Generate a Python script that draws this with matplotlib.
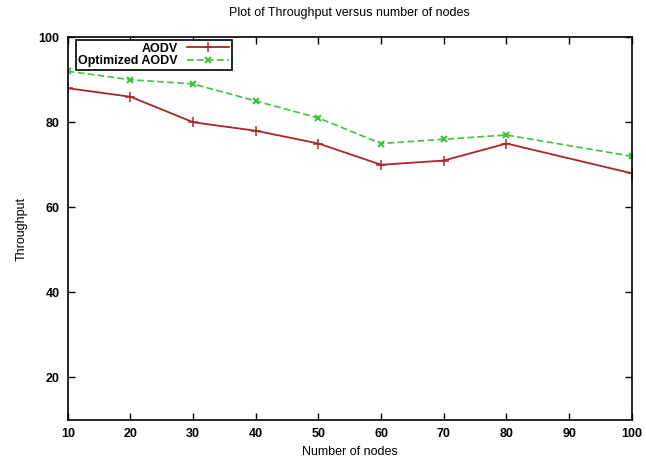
import matplotlib
matplotlib.use("Agg")
import matplotlib.pyplot as plt

# Données
nodes = [10, 20, 30, 40, 50, 60, 70, 80, 100]
aodv = [88, 86, 80, 78, 75, 70, 71, 75, 68]
optimized_aodv = [92, 90, 89, 85, 81, 75, 76, 77, 72]
xticks = [10, 20, 30, 40, 50, 60, 70, 80, 90, 100]
yticks = [20, 40, 60, 80, 100]

plt.rcParams['font.family'] = ['Liberation Sans', 'DejaVu Sans']
plt.rcParams['font.size'] = 9

fig = plt.figure(figsize=(6.46, 4.59), dpi=100)
ax = fig.add_axes([0.105, 0.085, 0.873, 0.834])

ax.plot(nodes, aodv, color='#a5282a', lw=1.3, marker='+', ms=7, mew=1.1, label='AODV')
ax.plot(nodes, optimized_aodv, color='#3ec43e', lw=1.2, ls=(0, (4, 2)), marker='x', ms=5, mew=1.5,
        label='Optimized AODV')

ax.set_xlim(10, 100)
ax.set_ylim(10, 100)
ax.set_xticks(xticks)
ax.set_yticks(yticks)
ax.tick_params(direction='in', top=True, right=True, length=5, width=1, pad=6)
for lbl in ax.get_xticklabels() + ax.get_yticklabels():
    lbl.set_fontweight('bold')
for s in ax.spines.values():
    s.set_linewidth(1.2)

ax.set_title("Plot of Throughput versus number of nodes", fontsize=9, pad=15)
ax.set_xlabel("Number of nodes", labelpad=4)
ax.set_ylabel("Throughput", labelpad=8)

leg = ax.legend(loc='upper left', bbox_to_anchor=(0.012, 0.995), markerfirst=False, fancybox=False,
                framealpha=1, edgecolor='black', borderpad=0.2, labelspacing=0.05, handlelength=3.4,
                handletextpad=0.7, borderaxespad=0.1, prop={'weight': 'bold', 'size': 9})
leg.get_frame().set_linewidth(1.2)
for t in leg.get_texts():
    t.set_ha('right')
leg._legend_box.align = 'right'

fig.savefig("out.png", dpi=100)
